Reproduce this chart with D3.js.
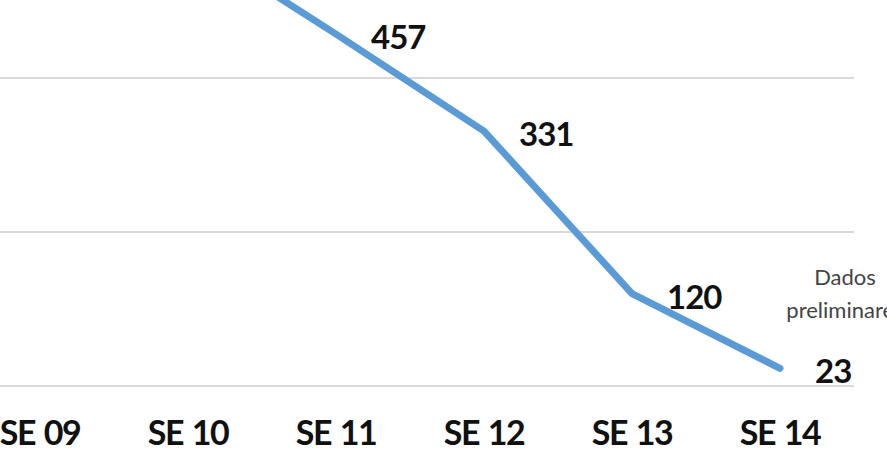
<!DOCTYPE html>
<html>
<head>
<meta charset="utf-8">
<script src="https://cdn.jsdelivr.net/npm/d3@7"></script>
<style>
  body { margin: 0; background: #fff; }
  svg { display: block; }
</style>
</head>
<body>
<svg width="887" height="471"></svg>
<script>
// weeks and cases (SE 09 / SE 10 are above the visible crop, estimated)
var weeks = ["SE 09", "SE 10", "SE 11", "SE 12", "SE 13", "SE 14"];
var cases = [640, 580, 457, 331, 120, 23];
var labelled = ["SE 11", "SE 12", "SE 13", "SE 14"];
var gridTicks = [0, 200, 400, 600];
var note = ["Dados", "preliminares"];

var svg = d3.select("svg"),
    width = +svg.attr("width"),
    height = +svg.attr("height");

// plot area runs past the left edge, as in the cropped original
var x = d3.scaleBand()
    .domain(weeks)
    .range([-34, 854]);

var y = d3.scaleLinear()
    .domain([0, 400])
    .range([386, 78]);

// gridlines
svg.append("g")
    .attr("class", "grid")
    .selectAll("line")
    .data(gridTicks)
    .enter().append("line")
    .attr("x1", x.range()[0])
    .attr("x2", x.range()[1])
    .attr("y1", function (d) { return y(d); })
    .attr("y2", function (d) { return y(d); })
    .attr("stroke", "#d9d9d9")
    .attr("stroke-width", 2);

// x axis labels
var xAxis = svg.append("g")
    .attr("transform", "translate(0," + y(0) + ")")
    .call(d3.axisBottom(x).tickSize(0).tickPadding(35));
xAxis.select(".domain").remove();
xAxis.selectAll("text")
    .attr("font-family", "Lato, sans-serif")
    .attr("font-weight", "bold")
    .attr("font-size", 34)
    .attr("letter-spacing", -1.5)
    .attr("word-spacing", 2)
    .attr("fill", "#111")
    .attr("dy", "0.71em");

function cx(d) { return x(d) + x.bandwidth() / 2; }

var pts = weeks.map(function (w, i) { return { week: w, value: cases[i] }; });

var line = d3.line()
    .x(function (d) { return cx(d.week); })
    .y(function (d) { return y(d.value); });

svg.append("path")
    .datum(pts)
    .attr("d", line)
    .attr("fill", "none")
    .attr("stroke", "#5b9bd5")
    .attr("stroke-width", 7)
    .attr("stroke-linejoin", "round")
    .attr("stroke-linecap", "round");

// value labels
svg.append("g")
    .selectAll("text")
    .data(pts.filter(function (d) { return labelled.indexOf(d.week) >= 0; }))
    .enter().append("text")
    .attr("x", function (d) { return cx(d.week) + 35; })
    .attr("y", function (d) { return y(d.value) + 15; })
    .attr("font-family", "Lato, sans-serif")
    .attr("font-weight", "bold")
    .attr("font-size", 33)
    .attr("letter-spacing", -1)
    .attr("fill", "#111")
    .text(function (d) { return d.value; });

// note (cut by the right edge, as in the original)
svg.append("g")
    .selectAll("text")
    .data(note)
    .enter().append("text")
    .attr("x", 845)
    .attr("y", function (d, i) { return 285 + i * 33; })
    .attr("text-anchor", "middle")
    .attr("font-family", "Lato, sans-serif")
    .attr("font-size", 22)
    .attr("fill", "#444")
    .text(function (d) { return d; });
</script>
</body>
</html>
